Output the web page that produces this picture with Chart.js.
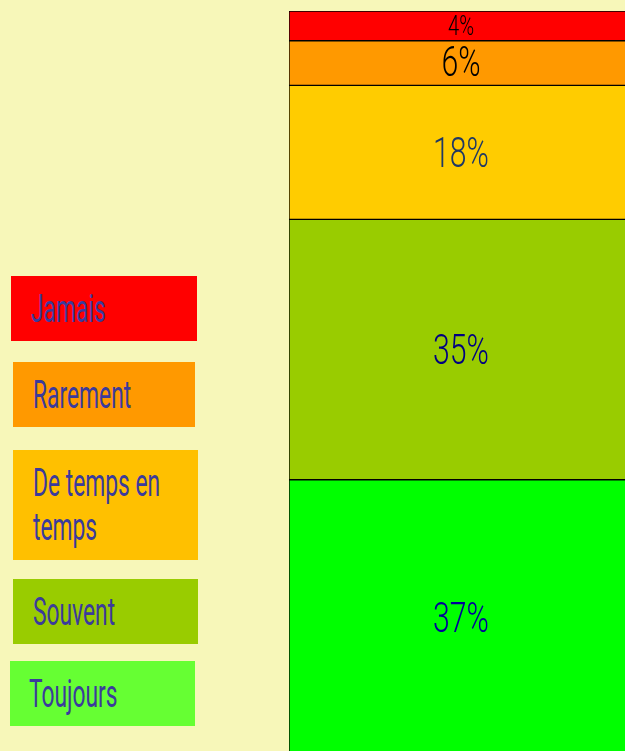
<!DOCTYPE html>
<html>
<head>
<meta charset="utf-8">
<script src="https://cdn.jsdelivr.net/npm/chart.js@4.4.1/dist/chart.umd.min.js"></script>
<style>
  html, body { margin: 0; padding: 0; background: #f7f7b9; overflow: hidden; }
  body { width: 625px; height: 751px; position: relative; }
  #wrap { position: absolute; left: 288px; top: 0; width: 345px; height: 755px; }
  .key { position: absolute; box-sizing: border-box; color: #3b3b9c;
         font-family: Roboto, sans-serif; font-size: 38px; line-height: 44px; }
  .key span { display: inline-block; transform: scaleX(0.6); transform-origin: left top; white-space: nowrap; }
</style>
</head>
<body>
<div id="legend"></div>
<div id="wrap"><canvas id="chart"></canvas></div>
<script>
// answers, bottom of the bar first
const categories = ['Toujours', 'Souvent', 'De temps en temps', 'Rarement', 'Jamais'];
const percentages = [37, 35, 18, 6, 4];
const barColors = ['#00ff00', '#99cc00', '#ffcc00', '#ff9900', '#ff0000'];
const labelColors = ['#000099', '#000080', '#1f3864', '#000000', '#000000'];
const labelSizes = [42, 42, 42, 42, 28];

// legend boxes on the left (drawn top to bottom)
const legendItems = [
    { text: 'Jamais', color: '#ff0000', box: [11, 276, 186, 65], lines: ['Jamais'] },
    { text: 'Rarement', color: '#ff9900', box: [13, 362, 182, 65], lines: ['Rarement'] },
    { text: 'De temps en temps', color: '#ffc000', box: [13, 450, 185, 110], lines: ['De temps en', 'temps'] },
    { text: 'Souvent', color: '#99cc00', box: [13, 579, 185, 65], lines: ['Souvent'] },
    { text: 'Toujours', color: '#66ff33', box: [10, 661, 185, 65], lines: ['Toujours'] }
];

const legend = document.getElementById('legend');
legendItems.forEach(item => {
    const d = document.createElement('div');
    d.className = 'key';
    const [x, y, w, h] = item.box;
    d.style.left = x + 'px';
    d.style.top = y + 'px';
    d.style.width = w + 'px';
    d.style.height = h + 'px';
    d.style.background = item.color;
    d.style.paddingLeft = (item.text === 'Toujours' ? 19 : 20) + 'px';
    d.style.paddingTop = '11px';
    d.innerHTML = item.lines.map(l => '<span>' + l + '</span>').join('<br>');
    legend.appendChild(d);
});

// draws the percentage in the middle of every segment, condensed
const segmentLabels = {
    id: 'segmentLabels',
    afterDatasetsDraw(chart) {
        const ctx = chart.ctx;
        chart.data.datasets.forEach((ds, i) => {
            const el = chart.getDatasetMeta(i).data[0];
            const cy = (el.y + el.base) / 2 + (i < 3 ? 4 : 2);
            ctx.save();
            ctx.translate(el.x, cy);
            ctx.scale(0.72, 1);
            ctx.font = '300 ' + labelSizes[i] + 'px Roboto';
            ctx.fillStyle = labelColors[i];
            ctx.textAlign = 'center';
            ctx.textBaseline = 'middle';
            ctx.fillText(ds.data[0] + '%', 0, 0);
            ctx.restore();
        });
    }
};

new Chart(document.getElementById('chart'), {
    type: 'bar',
    data: {
        labels: [''],
        datasets: categories.map((c, i) => ({
            label: c,
            data: [percentages[i]],
            backgroundColor: barColors[i],
            borderColor: '#000000',
            borderWidth: 1,
            borderSkipped: false,
            barPercentage: 1,
            categoryPercentage: 1
        }))
    },
    options: {
        responsive: true,
        maintainAspectRatio: false,
        animation: false,
        layout: { padding: { top: 11, left: 1, right: 0, bottom: 0 } },
        plugins: { legend: { display: false }, tooltip: { enabled: false } },
        scales: {
            x: { stacked: true, display: false },
            y: { stacked: true, display: false, min: 0, max: 100 }
        }
    },
    plugins: [segmentLabels]
});
</script>
</body>
</html>
